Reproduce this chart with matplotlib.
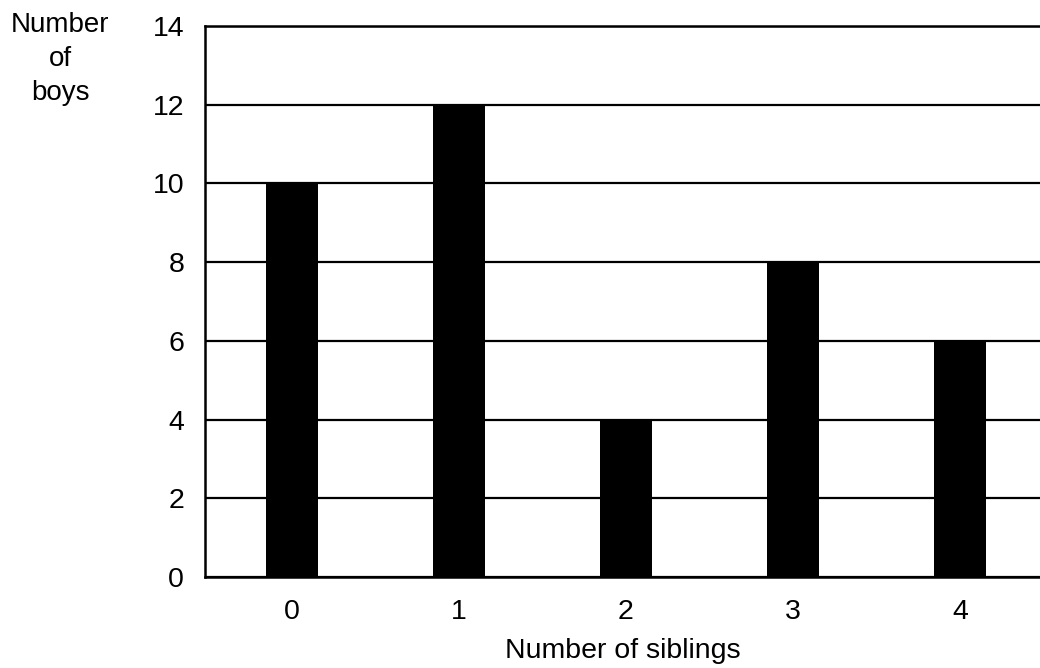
import matplotlib.pyplot as plt

plt.rcParams['font.family'] = ['Liberation Sans', 'DejaVu Sans']

siblings = ['0', '1', '2', '3', '4']
boys = [10, 12, 4, 8, 6]
y_ticks = [0, 2, 4, 6, 8, 10, 12, 14]

W, H = 1040, 668
fig = plt.figure(figsize=(W / 100, H / 100), dpi=100)

# axes box in pixels: left 205, top 26, bottom 577; right edge runs off the figure
left, right, top, bottom = 205, 1041, 26, 577
ax = fig.add_axes([left / W, 1 - bottom / H, (right - left) / W, (bottom - top) / H])

x = list(range(len(siblings)))
ax.bar(x, boys, width=0.31, color='black', zorder=3)

ax.set_xlim(-0.52, -0.52 + (right - left) / 167)
ax.set_ylim(0, 14)
ax.set_yticks(y_ticks)
ax.set_xticks(x)
ax.set_xticklabels(siblings)
ax.yaxis.grid(True, color='black', linewidth=1.6, zorder=1)
ax.tick_params(axis='both', length=0, labelsize=20.5, colors='black')
ax.tick_params(axis='y', pad=15)
ax.tick_params(axis='x', pad=16)

for side in ['left', 'bottom', 'top', 'right']:
    ax.spines[side].set_linewidth(1.8)
    ax.spines[side].set_color('black')

ax.set_xlabel('Number of siblings', fontsize=20.5, labelpad=9)
fig.text(60 / W, 1 - 12 / H, 'Number\nof\nboys', ha='center', va='top',
         fontsize=20, linespacing=1.4)

fig.savefig('out.png', dpi=100, facecolor='white')
